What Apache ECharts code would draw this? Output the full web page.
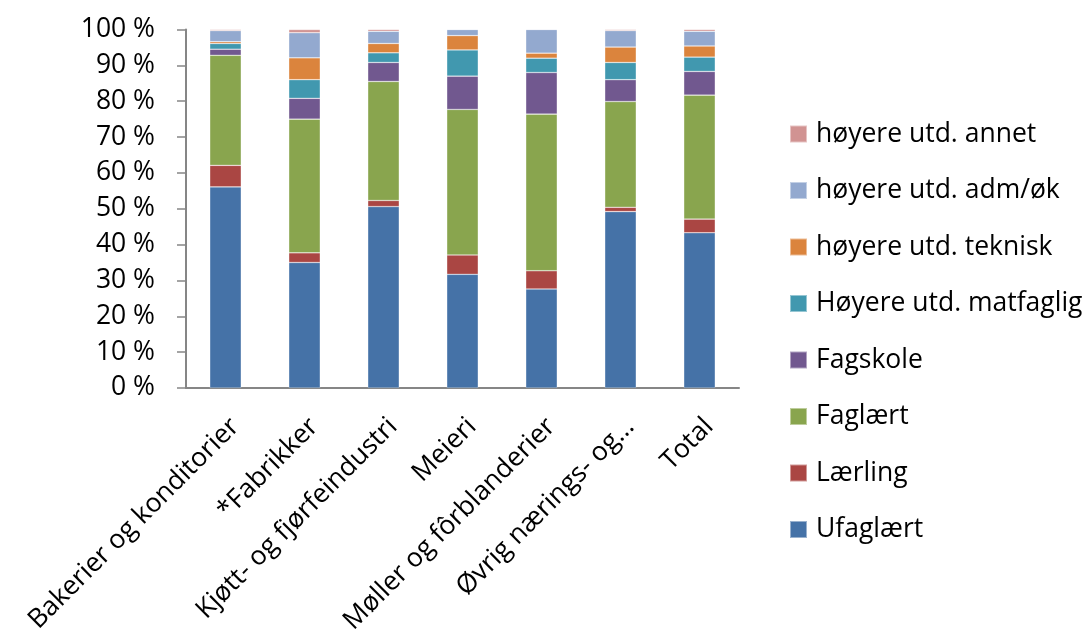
<!DOCTYPE html>
<html>
<head>
<meta charset="utf-8">
<script src="https://cdn.jsdelivr.net/npm/echarts@6/dist/echarts.min.js"></script>
<style>
  html, body { margin: 0; padding: 0; background: #fff; }
  #chart { width: 1092px; height: 637px; }
</style>
</head>
<body>
<div id="chart"></div>
<script>
var categories = ['Bakerier og konditorier', '*Fabrikker', 'Kjøtt- og fjørfeindustri', 'Meieri',
    'Møller og fôrblanderier', 'Øvrig nærings- og…', 'Total'];

var seriesNames = ['Ufaglært', 'Lærling', 'Faglært', 'Fagskole', 'Høyere utd. matfaglig',
    'høyere utd. teknisk', 'høyere utd. adm/øk', 'høyere utd. annet'];

var colors = ['#4572A7', '#AA4643', '#89A54E', '#71588F', '#4198AF', '#DB843D', '#93A9CF', '#D19392'];

var yTicks = [0, 10, 20, 30, 40, 50, 60, 70, 80, 90, 100];

// prosent per kategori
var ufaglaert   = [56.1, 35.0, 50.6, 31.7, 27.6, 49.2, 43.3];
var laerling    = [6.0, 2.7, 1.7, 5.4, 5.1, 1.2, 3.8];
var faglaert    = [30.7, 37.3, 33.2, 40.6, 43.7, 29.5, 34.6];
var fagskole    = [1.7, 5.8, 5.3, 9.3, 11.6, 6.1, 6.6];
var matfaglig   = [1.6, 5.2, 2.7, 7.3, 4.0, 4.8, 4.0];
var teknisk     = [0.5, 6.1, 2.6, 4.0, 1.4, 4.3, 3.1];
var admOk       = [3.1, 7.0, 3.4, 1.7, 6.6, 4.6, 4.1];
var annet       = [0.3, 0.9, 0.5, 0.0, 0.0, 0.3, 0.5];

var values = [ufaglaert, laerling, faglaert, fagskole, matfaglig, teknisk, admOk, annet];

var font = '"Open Sans", "Noto Sans", sans-serif';
var fontSize = 26.5;
var chart = echarts.init(document.getElementById('chart'));

var series = [];
for (var i = 0; i < seriesNames.length; i++) {
    series.push({
        name: seriesNames[i],
        type: 'bar',
        stack: 'total',
        barWidth: 31.5,
        data: values[i],
        itemStyle: {
            color: colors[i],
            borderColor: 'rgba(255,255,255,0.45)',
            borderWidth: 0.6
        }
    });
}

var option = {
    animation: false,
    color: colors,
    grid: { left: 186, right: 353, top: 29.5, bottom: 247 },
    legend: {
        orient: 'vertical',
        left: 789,
        top: 119,
        padding: 0,
        itemWidth: 17,
        itemHeight: 17,
        itemGap: 26.5,
        icon: 'rect',
        data: seriesNames.slice().reverse(),
        textStyle: { fontFamily: font, fontSize: fontSize, color: '#000', lineHeight: 30, padding: [0, 0, 0, 4] }
    },
    xAxis: {
        type: 'category',
        data: categories,
        axisLine: { lineStyle: { color: '#868686', width: 2 } },
        axisTick: { lineStyle: { color: '#868686', width: 1.5 }, length: 9 },
        axisLabel: {
            rotate: 45,
            interval: 0,
            margin: 25,
            align: 'right',
            verticalAlign: 'top',
            fontFamily: font,
            fontSize: fontSize,
            color: '#000'
        }
    },
    yAxis: {
        type: 'value',
        min: yTicks[0],
        max: yTicks[yTicks.length - 1],
        interval: 10,
        splitLine: { show: false },
        axisLine: { show: true, lineStyle: { color: '#868686', width: 2 } },
        axisTick: { show: true, lineStyle: { color: '#868686', width: 1.5 }, length: 9 },
        axisLabel: {
            formatter: '{value} %',
            margin: 31,
            fontFamily: font,
            fontSize: fontSize,
            color: '#000'
        }
    },
    series: series
};

chart.setOption(option);
</script>
</body>
</html>
